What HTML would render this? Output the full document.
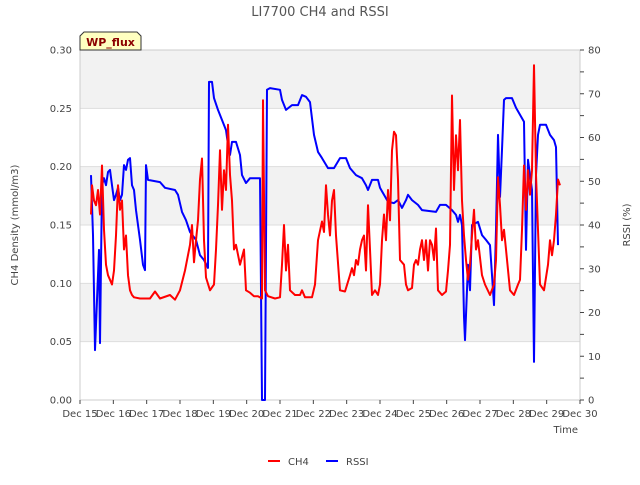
<!DOCTYPE html>
<html><head><meta charset="utf-8"><style>
body{margin:0;background:#fff;font-family:"Liberation Sans","DejaVu Sans",sans-serif;}
svg text{font-family:"DejaVu Sans","Liberation Sans",sans-serif;}
</style></head><body>
<svg id="chart" width="640" height="480" xmlns="http://www.w3.org/2000/svg"></svg>
<script>
const xTickLabels=["Dec 15","Dec 16","Dec 17","Dec 18","Dec 19","Dec 20","Dec 21","Dec 22","Dec 23","Dec 24","Dec 25","Dec 26","Dec 27","Dec 28","Dec 29","Dec 30"];
const leftTicks=[0,0.05,0.10,0.15,0.20,0.25,0.30];
const rightTicks=[0,10,20,30,40,50,60,70,80];
const ch4Days=[15.33,15.36,15.42,15.48,15.54,15.60,15.66,15.72,15.78,15.84,15.90,15.96,16.02,16.08,16.14,16.20,16.26,16.32,16.38,16.44,16.50,16.56,16.62,16.80,17.10,17.25,17.40,17.70,17.85,18.00,18.15,18.30,18.36,18.42,18.48,18.54,18.60,18.66,18.72,18.78,18.90,19.02,19.08,19.14,19.20,19.26,19.32,19.38,19.44,19.50,19.56,19.62,19.68,19.80,19.92,19.98,20.10,20.22,20.34,20.46,20.49,20.55,20.64,20.85,21.00,21.06,21.12,21.18,21.24,21.30,21.45,21.60,21.66,21.75,21.96,22.05,22.14,22.26,22.32,22.38,22.44,22.50,22.56,22.62,22.68,22.80,22.95,23.10,23.16,23.22,23.28,23.34,23.40,23.46,23.52,23.58,23.64,23.70,23.76,23.85,23.94,24.00,24.06,24.12,24.18,24.24,24.30,24.36,24.42,24.48,24.54,24.60,24.72,24.78,24.84,24.96,25.02,25.08,25.14,25.20,25.26,25.32,25.38,25.44,25.50,25.56,25.62,25.68,25.74,25.86,25.98,26.04,26.10,26.16,26.22,26.28,26.34,26.40,26.46,26.52,26.58,26.64,26.70,26.76,26.82,26.88,26.94,27.06,27.15,27.30,27.42,27.48,27.54,27.60,27.66,27.72,27.78,27.90,28.02,28.14,28.20,28.26,28.32,28.38,28.44,28.50,28.56,28.62,28.68,28.74,28.80,28.92,29.04,29.10,29.16,29.22,29.28,29.34,29.40];
const ch4Values=[0.159,0.184,0.171,0.167,0.180,0.159,0.201,0.146,0.116,0.107,0.103,0.099,0.111,0.141,0.184,0.163,0.171,0.129,0.141,0.107,0.094,0.090,0.088,0.087,0.087,0.093,0.087,0.090,0.086,0.094,0.111,0.133,0.150,0.118,0.137,0.154,0.189,0.207,0.137,0.105,0.094,0.099,0.129,0.167,0.214,0.163,0.197,0.180,0.236,0.193,0.171,0.129,0.133,0.116,0.129,0.094,0.092,0.089,0.089,0.087,0.257,0.094,0.089,0.087,0.088,0.116,0.150,0.111,0.133,0.094,0.090,0.090,0.094,0.088,0.088,0.099,0.137,0.153,0.144,0.184,0.159,0.141,0.171,0.180,0.141,0.094,0.093,0.107,0.113,0.107,0.120,0.116,0.129,0.137,0.141,0.111,0.167,0.129,0.090,0.094,0.090,0.099,0.137,0.159,0.137,0.180,0.154,0.214,0.230,0.227,0.189,0.120,0.116,0.099,0.094,0.096,0.116,0.120,0.116,0.129,0.137,0.120,0.137,0.111,0.137,0.133,0.120,0.147,0.094,0.090,0.093,0.111,0.133,0.261,0.180,0.227,0.197,0.240,0.171,0.141,0.120,0.103,0.116,0.141,0.163,0.129,0.137,0.107,0.099,0.090,0.099,0.120,0.191,0.167,0.137,0.146,0.129,0.094,0.090,0.099,0.103,0.146,0.201,0.163,0.197,0.176,0.197,0.287,0.193,0.146,0.099,0.094,0.116,0.137,0.124,0.137,0.159,0.189,0.184];
const rssiDays=[15.33,15.39,15.45,15.51,15.57,15.60,15.66,15.72,15.78,15.84,15.90,15.96,16.02,16.08,16.14,16.20,16.26,16.32,16.38,16.44,16.50,16.56,16.62,16.68,16.80,16.89,16.95,16.98,17.04,17.40,17.55,17.85,17.94,18.06,18.18,18.30,18.48,18.60,18.72,18.84,18.87,18.96,19.02,19.14,19.26,19.38,19.44,19.50,19.56,19.68,19.80,19.86,19.98,20.10,20.40,20.46,20.55,20.61,20.70,21.00,21.06,21.18,21.36,21.54,21.66,21.78,21.90,22.02,22.14,22.26,22.44,22.62,22.80,22.98,23.10,23.28,23.46,23.58,23.64,23.76,23.94,24.00,24.12,24.24,24.42,24.54,24.66,24.78,24.84,24.96,25.14,25.26,25.68,25.80,25.98,26.16,26.28,26.34,26.40,26.46,26.52,26.55,26.64,26.70,26.76,26.94,27.06,27.18,27.30,27.42,27.48,27.54,27.60,27.66,27.72,27.78,27.96,28.08,28.20,28.32,28.38,28.44,28.50,28.56,28.62,28.68,28.74,28.80,28.98,29.10,29.22,29.28,29.34];
const rssiValues=[51.4,37.7,11.4,22.9,34.3,13.0,49.1,50.7,49.1,52.1,52.6,49.1,45.7,46.9,48.5,45.7,46.9,53.7,52.6,54.9,55.3,49.1,48.0,43.4,36.6,30.9,29.7,53.7,50.3,49.8,48.5,48.0,46.9,43.0,41.1,38.4,36.6,33.1,32.0,30.2,72.7,72.7,69.0,66.3,64.0,61.7,58.3,56.0,59.0,59.0,56.0,51.4,49.6,50.7,50.7,0,0,70.9,71.3,70.9,68.6,66.3,67.4,67.4,69.7,69.3,68.1,60.6,56.7,55.3,53.0,53.0,55.3,55.3,53.0,51.4,50.7,49.1,48.0,50.3,50.3,48.5,46.9,45.3,45.0,45.7,43.9,45.7,46.9,45.7,44.6,43.4,43.0,44.6,44.6,43.4,42.3,40.7,42.3,40.0,19.0,13.7,30.9,25.1,40.0,40.7,37.7,36.6,35.4,21.7,38.9,60.6,46.4,57.2,68.6,69.0,69.0,66.8,65.2,63.6,34.3,54.9,51.4,48.0,8.7,51.4,60.6,62.9,62.9,60.6,59.4,57.8,35.4];

const svg=document.getElementById('chart');
const NS='http://www.w3.org/2000/svg';
const L=80,R=580,T=50,B=400;
const xs=d=>L+(d-15)/15*(R-L);
const yl=v=>B-v/0.30*(B-T);
const yr=v=>B-v/80*(B-T);
function el(tag,attrs,name,inter){const e=document.createElementNS(NS,tag);for(const k in attrs)e.setAttribute(k,attrs[k]);svg.appendChild(e);return e;}
function txt(x,y,s,attrs,name){const e=el('text',Object.assign({x:x,y:y,'font-size':10,fill:'#444'},attrs),name,false);e.textContent=s;return e;}
// bands
for(let i=0;i<6;i++){const y0=yl(leftTicks[i+1]),y1=yl(leftTicks[i]);
 el('rect',{x:L,y:y0,width:R-L,height:y1-y0,fill:i%2==1?'#f2f2f2':'#ffffff'},'plot-band',false);}
leftTicks.forEach(t=>{el('line',{x1:L,x2:R,y1:yl(t),y2:yl(t),stroke:'#dddddd','stroke-width':1},'grid-line',false);});
el('rect',{x:L,y:T,width:R-L,height:B-T,fill:'none',stroke:'#cccccc'},'plot-frame',false);
// left ticks
leftTicks.forEach(t=>{txt(L-8,yl(t)+3.5,t.toFixed(2),{'text-anchor':'end'},'y-left-tick-label');});
// right ticks
rightTicks.forEach(t=>{el('line',{x1:R,x2:R+4,y1:yr(t),y2:yr(t),stroke:'#444'},'y-right-tick',false);
 txt(R+8,yr(t)+3.5,String(t),{'text-anchor':'start'},'y-right-tick-label');
 if(t<80)el('line',{x1:R,x2:R+4,y1:yr(t+5),y2:yr(t+5),stroke:'#444'},'y-right-minor-tick',false);});
// x ticks
xTickLabels.forEach((s,i)=>{el('line',{x1:xs(15+i),x2:xs(15+i),y1:B,y2:B+4,stroke:'#444'},'x-tick',false);
 txt(xs(15+i),B+17,s,{'text-anchor':'middle'},'x-tick-label');});
// series
function poly(days,vals,sc,col,name){const pts=days.map((d,i)=>xs(d).toFixed(1)+','+sc(vals[i]).toFixed(1)).join(' ');
 el('polyline',{points:pts,fill:'none',stroke:col,'stroke-width':2,'stroke-linejoin':'round'},name,false);}
poly(rssiDays,rssiValues,yr,'#0000ff','rssi-line');
poly(ch4Days,ch4Values,yl,'#ff0000','ch4-line');
// titles
txt(320,16,'LI7700 CH4 and RSSI',{'text-anchor':'middle','font-size':13,fill:'#555'},'chart-title');
txt(578,433,'Time',{'text-anchor':'end','font-size':10},'x-axis-title');
txt(0,0,'CH4 Density (mmol/m3)',{'text-anchor':'middle',transform:'translate(18,225) rotate(-90)'},'y-left-axis-title');
txt(0,0,'RSSI (%)',{'text-anchor':'middle',transform:'translate(630,225) rotate(-90)'},'y-right-axis-title');
// WP_flux label
el('path',{d:'M80,50 L80,36 L84,32 L137,32 L141,36 L141,50 Z',fill:'#ffffc0',stroke:'#333'},'site-label-box',false);
txt(110.5,46,'WP_flux',{'text-anchor':'middle','font-size':11,'font-weight':'bold',fill:'#8b0000'},'site-label');
// legend
el('line',{x1:268,x2:280,y1:461,y2:461,stroke:'#ff0000','stroke-width':2},'legend-ch4-swatch',false);
txt(288,465,'CH4',{},'legend-ch4-label');
el('line',{x1:326,x2:338,y1:461,y2:461,stroke:'#0000ff','stroke-width':2},'legend-rssi-swatch',false);
txt(346,465,'RSSI',{},'legend-rssi-label');
</script>
</body></html>
